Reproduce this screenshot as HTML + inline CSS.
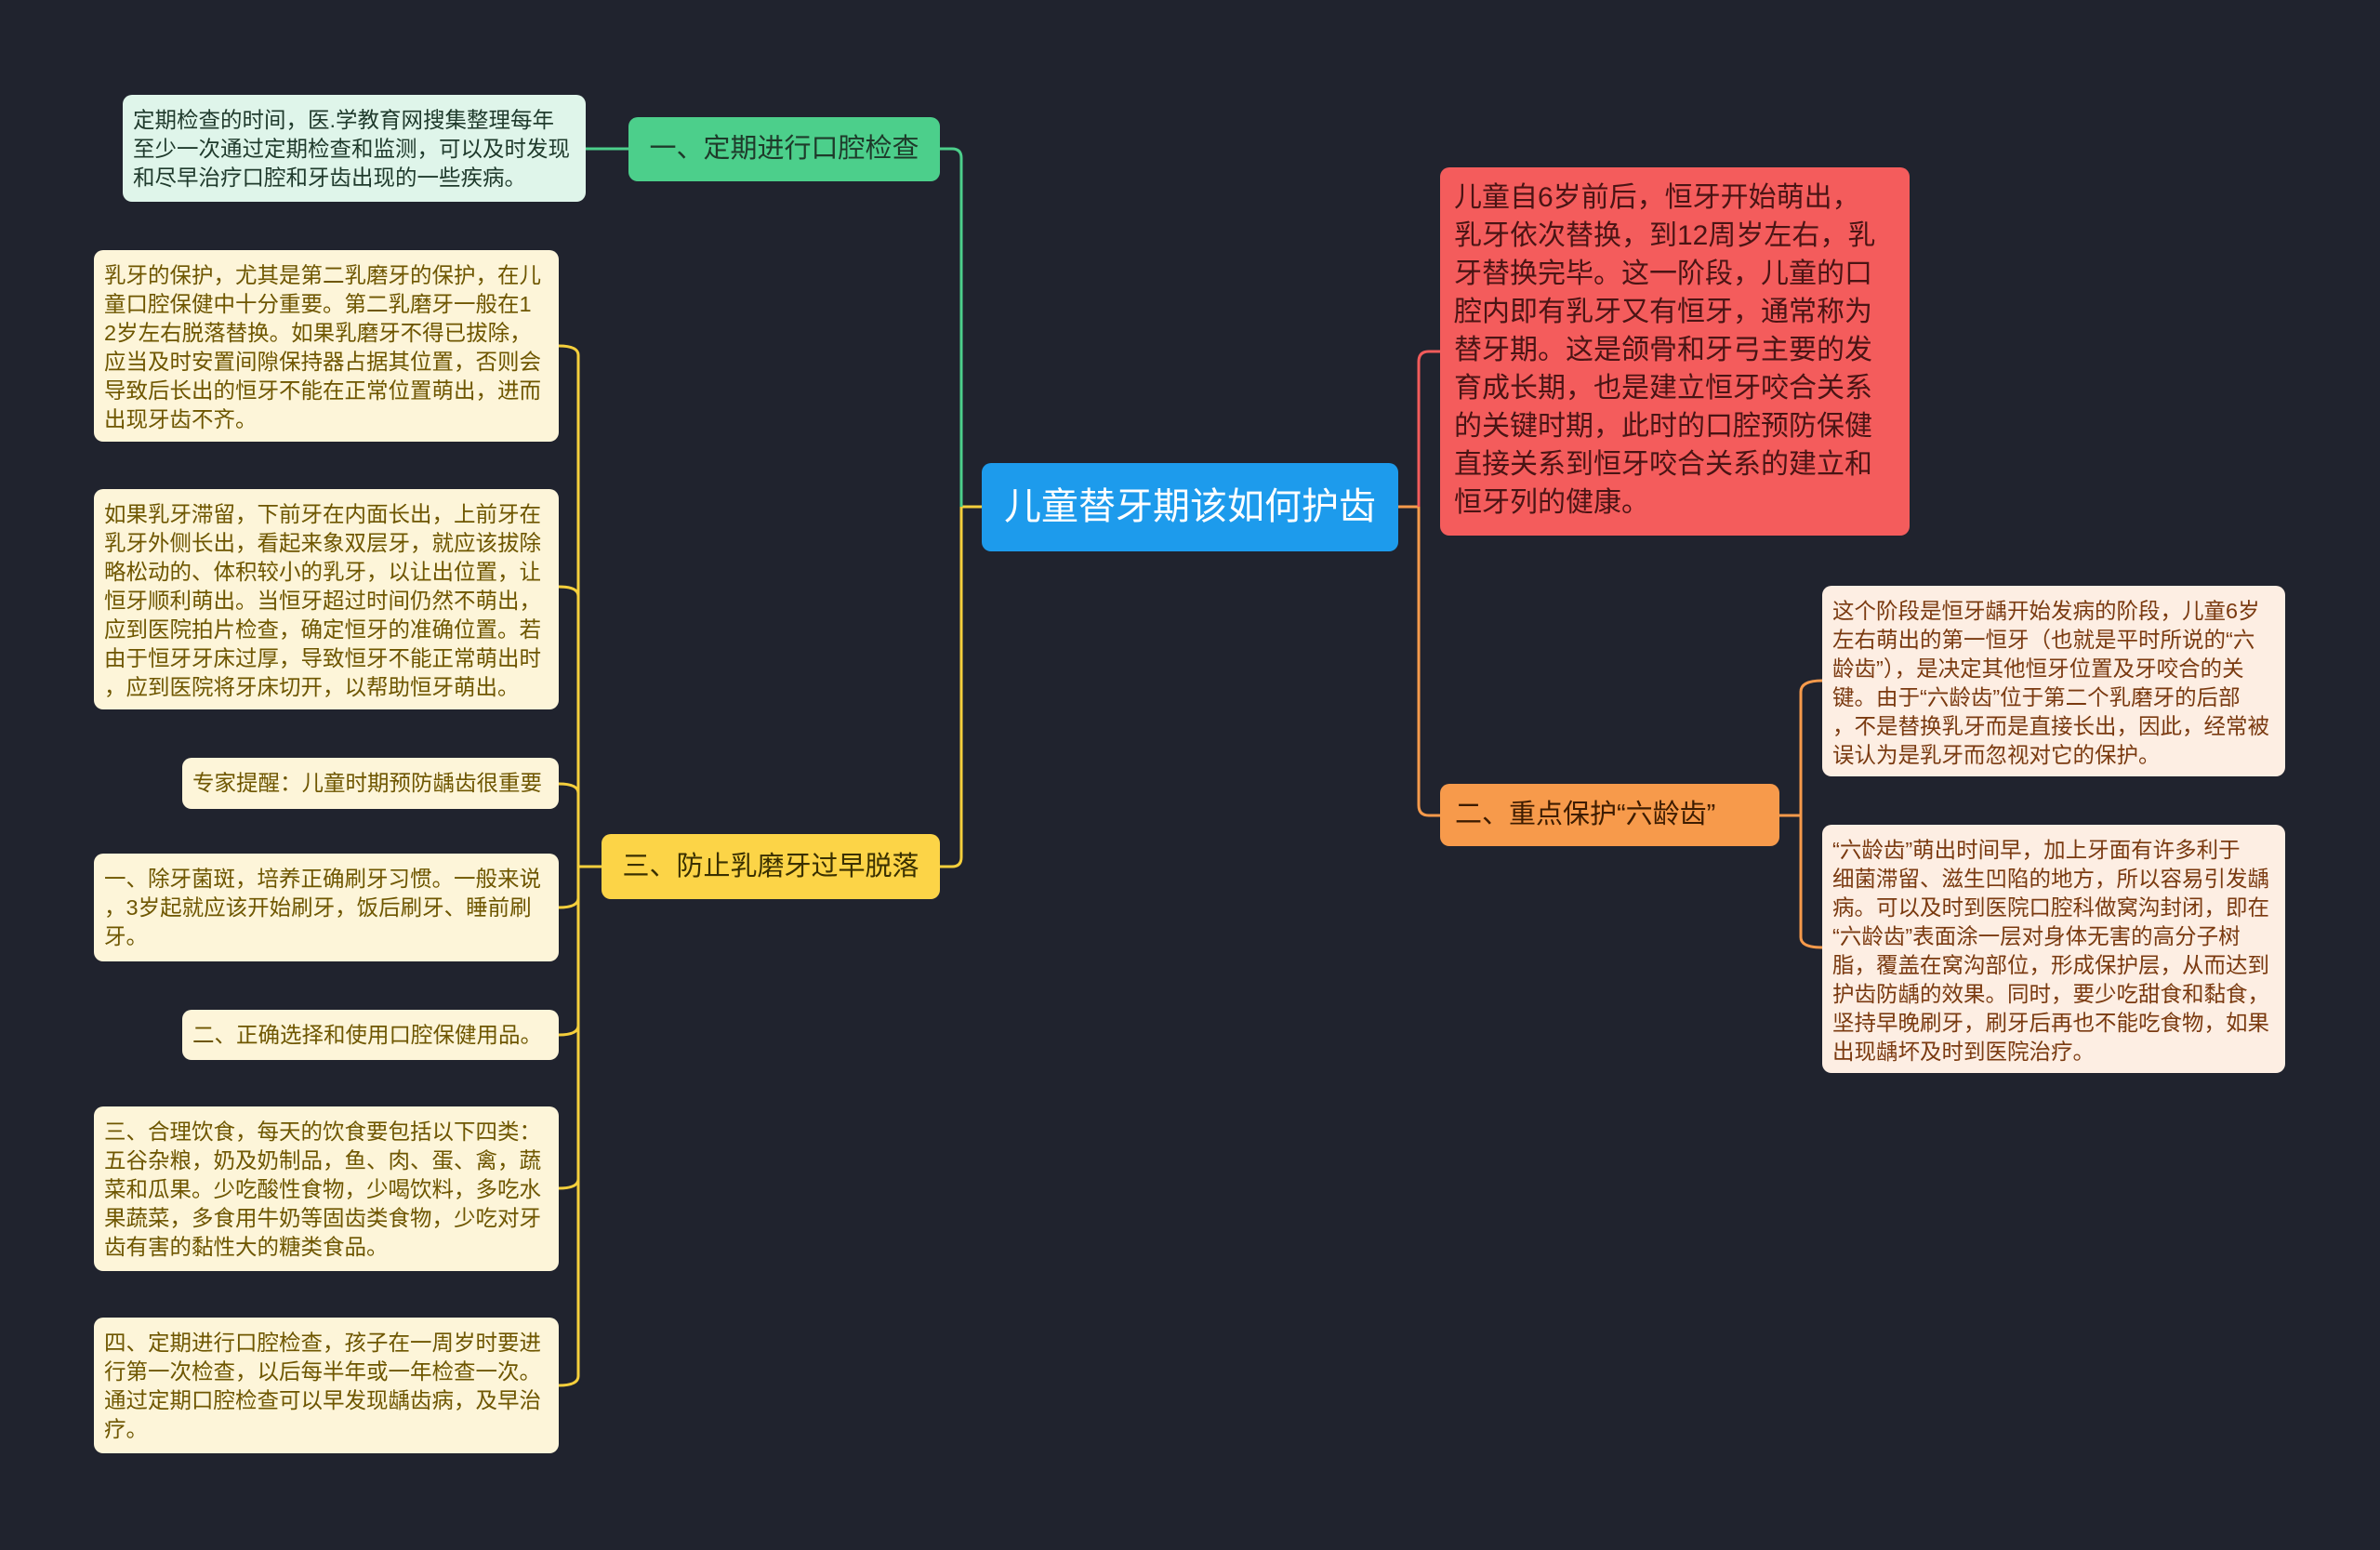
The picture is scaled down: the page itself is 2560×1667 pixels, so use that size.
<!DOCTYPE html>
<html><head><meta charset="utf-8"><style>
html,body{margin:0;padding:0}
body{width:2560px;height:1667px;background:#20232e;position:relative;overflow:hidden;font-family:"Liberation Sans","Noto Sans CJK SC",sans-serif}
.n{position:absolute;box-sizing:border-box;border-radius:10px;white-space:nowrap}
.leaf{font-size:23.5px;line-height:31px;padding:12px 11px 10px}
.l{background:#fdf5d9;color:#6e5600}
.r{background:#fdeee3;color:#7a3a10}
svg{position:absolute;left:0;top:0}
</style></head><body>
<svg width="2560" height="1667" fill="none" stroke-width="3">
<path d="M1056 545 H1034" stroke="#f5cf3c"/>
<path d="M1034 545 V170 Q1034 160 1024 160 H1011" stroke="#4ccf8b"/>
<path d="M1034 545 V922 Q1034 932 1024 932 H1011" stroke="#f5cf3c"/>
<path d="M630 160 H676" stroke="#4ccf8b"/>
<g stroke="#f5cf3c">
<path d="M647 932 H622"/>
<path d="M622 382 V1480"/>
<path d="M601 372 Q622 372 622 382"/>
<path d="M601 631 Q622 631 622 641 V641"/>
<path d="M601 843 Q622 843 622 853"/>
<path d="M601 976 Q622 976 622 966"/>
<path d="M601 1113 Q622 1113 622 1103"/>
<path d="M601 1278 Q622 1278 622 1268"/>
<path d="M601 1490 Q622 1490 622 1480"/>
</g>
<path d="M1504 545 H1526" stroke="#f79a4b"/>
<path d="M1526 545 V389 Q1526 378 1537 378 H1549" stroke="#f25b5b"/>
<path d="M1526 545 V866 Q1526 877 1537 877 H1549" stroke="#f79a4b"/>
<g stroke="#f79a4b">
<path d="M1914 877 H1937"/>
<path d="M1937 744 V1008"/>
<path d="M1960 732 Q1937 732 1937 744"/>
<path d="M1960 1019 Q1937 1019 1937 1008"/>
</g>
</svg>

<div class="n" style="left:1056px;top:498px;width:448px;height:95px;background:#1d9bec;color:#fff;font-size:40px;line-height:95px;text-align:center">儿童替牙期该如何护齿</div>

<div class="n" style="left:676px;top:126px;width:335px;height:69px;background:#4ccf8b;color:#1e3a2a;font-size:29px;line-height:69px;text-align:center">一、定期进行口腔检查</div>
<div class="n leaf" style="left:132px;top:102px;width:498px;height:115px;background:#dff5ea;color:#1f3a2c">定期检查的时间，医.学教育网搜集整理每年<br>至少一次通过定期检查和监测，可以及时发现<br>和尽早治疗口腔和牙齿出现的一些疾病。</div>

<div class="n" style="left:647px;top:897px;width:364px;height:70px;background:#fcd447;color:#3a3000;font-size:29px;line-height:70px;text-align:center">三、防止乳磨牙过早脱落</div>

<div class="n leaf l" style="left:101px;top:269px;width:500px;height:206px">乳牙的保护，尤其是第二乳磨牙的保护，在儿<br>童口腔保健中十分重要。第二乳磨牙一般在1<br>2岁左右脱落替换。如果乳磨牙不得已拔除，<br>应当及时安置间隙保持器占据其位置，否则会<br>导致后长出的恒牙不能在正常位置萌出，进而<br>出现牙齿不齐。</div>
<div class="n leaf l" style="left:101px;top:526px;width:500px;height:237px">如果乳牙滞留，下前牙在内面长出，上前牙在<br>乳牙外侧长出，看起来象双层牙，就应该拔除<br>略松动的、体积较小的乳牙，以让出位置，让<br>恒牙顺利萌出。当恒牙超过时间仍然不萌出，<br>应到医院拍片检查，确定恒牙的准确位置。若<br>由于恒牙牙床过厚，导致恒牙不能正常萌出时<br>，应到医院将牙床切开，以帮助恒牙萌出。</div>
<div class="n leaf l" style="left:196px;top:815px;width:405px;height:55px">专家提醒：儿童时期预防龋齿很重要</div>
<div class="n leaf l" style="left:101px;top:918px;width:500px;height:116px">一、除牙菌斑，培养正确刷牙习惯。一般来说<br>，3岁起就应该开始刷牙，饭后刷牙、睡前刷<br>牙。</div>
<div class="n leaf l" style="left:196px;top:1086px;width:405px;height:54px">二、正确选择和使用口腔保健用品。</div>
<div class="n leaf l" style="left:101px;top:1190px;width:500px;height:177px">三、合理饮食，每天的饮食要包括以下四类：<br>五谷杂粮，奶及奶制品，鱼、肉、蛋、禽，蔬<br>菜和瓜果。少吃酸性食物，少喝饮料，多吃水<br>果蔬菜，多食用牛奶等固齿类食物，少吃对牙<br>齿有害的黏性大的糖类食品。</div>
<div class="n leaf l" style="left:101px;top:1417px;width:500px;height:146px">四、定期进行口腔检查，孩子在一周岁时要进<br>行第一次检查，以后每半年或一年检查一次。<br>通过定期口腔检查可以早发现龋齿病，及早治<br>疗。</div>

<div class="n" style="left:1549px;top:180px;width:505px;height:396px;background:#f45c5c;color:#4a1414;font-size:30px;line-height:41px;padding:12px 15px">儿童自6岁前后，恒牙开始萌出，<br>乳牙依次替换，到12周岁左右，乳<br>牙替换完毕。这一阶段，儿童的口<br>腔内即有乳牙又有恒牙，通常称为<br>替牙期。这是颌骨和牙弓主要的发<br>育成长期，也是建立恒牙咬合关系<br>的关键时期，此时的口腔预防保健<br>直接关系到恒牙咬合关系的建立和<br>恒牙列的健康。</div>

<div class="n" style="left:1549px;top:843px;width:365px;height:67px;background:#f79a4b;color:#3d1c00;font-size:29px;line-height:67px;padding-left:16px">二、重点保护“六龄齿”</div>

<div class="n leaf r" style="left:1960px;top:630px;width:498px;height:205px">这个阶段是恒牙龋开始发病的阶段，儿童6岁<br>左右萌出的第一恒牙（也就是平时所说的“六<br>龄齿”），是决定其他恒牙位置及牙咬合的关<br>键。由于“六龄齿”位于第二个乳磨牙的后部<br>，不是替换乳牙而是直接长出，因此，经常被<br>误认为是乳牙而忽视对它的保护。</div>
<div class="n leaf r" style="left:1960px;top:887px;width:498px;height:267px">“六龄齿”萌出时间早，加上牙面有许多利于<br>细菌滞留、滋生凹陷的地方，所以容易引发龋<br>病。可以及时到医院口腔科做窝沟封闭，即在<br>“六龄齿”表面涂一层对身体无害的高分子树<br>脂，覆盖在窝沟部位，形成保护层，从而达到<br>护齿防龋的效果。同时，要少吃甜食和黏食，<br>坚持早晚刷牙，刷牙后再也不能吃食物，如果<br>出现龋坏及时到医院治疗。</div>
</body></html>
